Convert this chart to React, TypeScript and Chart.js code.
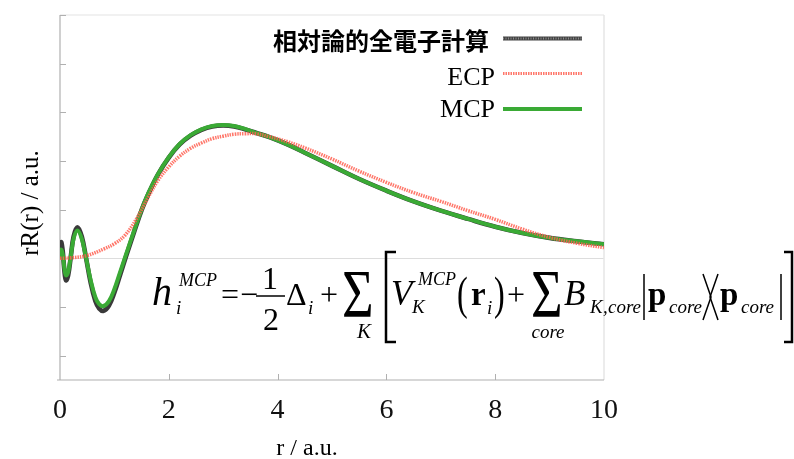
import React, { useEffect, useRef } from "react";
import { Chart, registerables } from "chart.js";

Chart.register(...registerables);

// ---- data ----
const rFull = [
  0, 0.02, 0.05, 0.08, 0.11, 0.15, 0.2, 0.25, 0.32, 0.4, 0.48, 0.56, 0.65, 0.72, 0.8, 0.9, 1.0, 1.1, 1.22, 1.35, 1.5,
  1.62, 1.8, 2.0, 2.2, 2.4, 2.6, 2.8, 3.0, 3.2, 3.4, 3.6, 3.85, 4.2, 4.5, 5.0, 5.5, 6.0, 6.5, 7.0, 7.5, 8.0, 8.5, 9.0,
  9.5, 10.0,
];
const allElectron = [
  0, 0.033, 0.015, -0.025, -0.045, -0.035, 0.005, 0.045, 0.064, 0.045, 0.0, -0.048, -0.088, -0.103, -0.108, -0.097,
  -0.07, -0.036, 0.006, 0.05, 0.099, 0.131, 0.172, 0.207, 0.234, 0.252, 0.264, 0.271, 0.273, 0.271, 0.265, 0.258, 0.249,
  0.233, 0.217, 0.19, 0.163, 0.139, 0.117, 0.098, 0.081, 0.065, 0.052, 0.042, 0.035, 0.029,
];
const mcpValues = [
  0, 0.018, 0.008, -0.02, -0.035, -0.028, 0.005, 0.04, 0.057, 0.04, 0.0, -0.043, -0.08, -0.094, -0.098, -0.088, -0.063,
  -0.03, 0.01, 0.053, 0.1, 0.133, 0.173, 0.208, 0.235, 0.253, 0.265, 0.272, 0.274, 0.272, 0.266, 0.258, 0.249, 0.233,
  0.217, 0.19, 0.163, 0.139, 0.117, 0.098, 0.081, 0.065, 0.052, 0.042, 0.035, 0.029,
];
const rEcp = [
  0, 0.2, 0.5, 0.8, 1.0, 1.2, 1.4, 1.62, 1.8, 2.0, 2.2, 2.4, 2.6, 2.8, 3.0, 3.2, 3.4, 3.6, 3.85, 4.2, 4.5, 5.0, 5.5, 6.0,
  6.5, 7.0, 7.5, 8.0, 8.5, 9.0, 9.5, 10.0,
];
const ecpValues = [
  0, 0.001, 0.006, 0.019, 0.03, 0.048, 0.08, 0.125, 0.16, 0.188, 0.21, 0.226, 0.237, 0.246, 0.251, 0.255, 0.256, 0.256,
  0.25, 0.239, 0.227, 0.204, 0.179, 0.156, 0.135, 0.117, 0.098, 0.08, 0.06, 0.043, 0.031, 0.022,
];
const xTickValues = [0, 2, 4, 6, 8, 10];
const yTickValues = [-0.2, -0.1, 0, 0.1, 0.2, 0.3, 0.4, 0.5];
const seriesLabels = ["相対論的全電子計算", "ECP", "MCP"];
const xTitle = "r / a.u.";
const yTitle = "rR(r) / a.u.";

const SERIF = '"Liberation Serif", "Times New Roman", serif';
const CJK = '"Noto Sans CJK JP", "Noto Sans CJK SC", sans-serif';
const COLORS = ["#3a3a3a", "rgba(255,95,80,0.85)", "#3aaa35"];

function txt(
  ctx: CanvasRenderingContext2D,
  s: string,
  x: number,
  y: number,
  size: number,
  style = "",
  align: CanvasTextAlign = "left",
  sx = 1,
  family = SERIF
) {
  ctx.save();
  ctx.font = `${style} ${size}px ${family}`;
  ctx.textAlign = align;
  ctx.textBaseline = "alphabetic";
  ctx.fillStyle = "#000";
  ctx.translate(x, y);
  ctx.scale(sx, 1);
  ctx.fillText(s, 0, 0);
  ctx.restore();
}

function line(ctx: CanvasRenderingContext2D, pts: number[][], w = 1.5, color = "#000") {
  ctx.save();
  ctx.strokeStyle = color;
  ctx.lineWidth = w;
  ctx.beginPath();
  pts.forEach((p, i) => (i === 0 ? ctx.moveTo(p[0], p[1]) : ctx.lineTo(p[0], p[1])));
  ctx.stroke();
  ctx.restore();
}

function drawFormula(ctx: CanvasRenderingContext2D) {
  const B = 305;
  // h_i^MCP
  txt(ctx, "h", 152, B, 40, "italic");
  txt(ctx, "MCP", 179, 286, 18, "italic");
  txt(ctx, "i", 176, 314, 19, "italic");
  // = - 1/2 Δ_i
  txt(ctx, "=", 221, B, 32);
  txt(ctx, "\u2212", 240, B, 32);
  txt(ctx, "1", 270, 289, 32, "", "center");
  line(ctx, [[256, 296], [285, 296]], 1.5);
  txt(ctx, "2", 271, 330, 32, "", "center");
  txt(ctx, "\u0394", 286, B, 32);
  txt(ctx, "i", 308, 314, 19, "italic");
  txt(ctx, "+", 320, B, 32);
  // Σ_K
  txt(ctx, "\u03A3", 342, 316, 68, "", "left", 0.8);
  txt(ctx, "K", 364, 338, 21, "italic", "center");
  // [
  line(ctx, [[396, 252], [386, 252], [386, 342], [396, 342]], 2.5);
  // V_K^MCP (r_i)
  txt(ctx, "V", 391, B, 35, "italic");
  txt(ctx, "MCP", 418, 285, 18, "italic");
  txt(ctx, "K", 412, 313, 19, "italic");
  txt(ctx, "(", 457, 309, 46, "", "left", 0.7);
  txt(ctx, "r", 471, B, 33, "bold");
  txt(ctx, "i", 487, 314, 19, "italic");
  txt(ctx, ")", 494, 309, 46, "", "left", 0.7);
  txt(ctx, "+", 507, B, 32);
  // Σ_core
  txt(ctx, "\u03A3", 531, 316, 68, "", "left", 0.8);
  txt(ctx, "core", 548, 338, 19, "italic", "center");
  // B_K,core
  txt(ctx, "B", 564, B, 35, "italic");
  txt(ctx, "K", 590, 313, 19, "italic");
  txt(ctx, ",", 603, 313, 19, "italic");
  txt(ctx, "core", 608, 313, 19, "italic");
  // |p_core><p_core|
  line(ctx, [[644, 274], [644, 320]], 1.5);
  txt(ctx, "p", 648, B, 33, "bold");
  txt(ctx, "core", 669, 313, 19, "italic");
  line(ctx, [[703, 274], [711, 297], [703, 320]], 1.5);
  line(ctx, [[718, 274], [710, 297], [718, 320]], 1.5);
  txt(ctx, "p", 720, B, 33, "bold");
  txt(ctx, "core", 741, 313, 19, "italic");
  line(ctx, [[781, 274], [781, 320]], 1.5);
  // ]
  line(ctx, [[784, 252], [792, 252], [792, 342], [784, 342]], 2.5);
}

const framePlugin = {
  id: "frame",
  beforeDatasetsDraw(chart: any) {
    const { ctx, chartArea: a, scales } = chart;
    const xs = scales.x;
    const ys = scales.y;
    ctx.save();
    const y0 = Math.round(ys.getPixelForValue(0)) + 0.5;
    line(ctx, [[a.left, y0], [a.right, y0]], 1, "#dddddd");
    line(ctx, [[a.left, a.top], [a.right, a.top]], 1.5, "#ececec");
    line(ctx, [[a.right, a.top], [a.right, a.bottom]], 1.5, "#e6e6e6");
    line(ctx, [[a.left, a.top], [a.left, a.bottom]], 1.2, "#b0b0b0");
    line(ctx, [[a.left - 3, a.bottom], [a.right, a.bottom]], 1.2, "#b0b0b0");
    yTickValues.forEach((v) => {
      const y = Math.round(ys.getPixelForValue(v)) + 0.5;
      line(ctx, [[a.left, y], [a.left + 6, y]], 1, "#b0b0b0");
    });
    xTickValues.forEach((v) => {
      if (v === 0 || v === 10) return;
      const x = Math.round(xs.getPixelForValue(v)) + 0.5;
      line(ctx, [[x, a.bottom], [x, a.bottom - 6]], 1, "#b0b0b0");
    });
    ctx.restore();
  },
};

const overlayPlugin = {
  id: "overlay",
  afterDraw(chart: any) {
    const ctx: CanvasRenderingContext2D = chart.ctx;
    txt(ctx, xTitle, 307, 455, 24, "", "center");
    ctx.save();
    ctx.translate(31, 203);
    ctx.rotate(-Math.PI / 2);
    ctx.font = `25px ${SERIF}`;
    ctx.textAlign = "center";
    ctx.textBaseline = "middle";
    ctx.fillStyle = "#000";
    ctx.fillText(yTitle, 0, 0);
    ctx.restore();
    // legend
    ctx.save();
    ctx.font = `bold 24px ${CJK}`;
    ctx.textAlign = "right";
    ctx.textBaseline = "middle";
    ctx.fillStyle = "#000";
    ctx.fillText(seriesLabels[0], 489, 41);
    ctx.restore();
    txt(ctx, seriesLabels[1], 495, 85, 26, "", "right");
    txt(ctx, seriesLabels[2], 495, 117, 26, "", "right");
    line(ctx, [[503, 38.5], [582, 38.5]], 4, "#444");
    ctx.save();
    ctx.setLineDash([1, 1.5]);
    line(ctx, [[503, 38.5], [582, 38.5]], 2, "#8a8a8a");
    ctx.restore();
    ctx.save();
    ctx.setLineDash([1.5, 1]);
    line(ctx, [[503, 73.5], [582, 73.5]], 3, COLORS[1]);
    ctx.restore();
    line(ctx, [[503, 109], [582, 109]], 4, COLORS[2]);
    drawFormula(ctx);
  },
};

export default function App() {
  const ref = useRef<HTMLCanvasElement | null>(null);
  useEffect(() => {
    if (!ref.current) return;
    const toPts = (xs: number[], ys: number[]) => xs.map((x, i) => ({ x, y: ys[i] }));
    const chart = new Chart(ref.current, {
      type: "line",
      data: {
        datasets: [
          {
            label: seriesLabels[0],
            data: toPts(rFull, allElectron),
            borderColor: COLORS[0],
            borderWidth: 4.6,
            pointRadius: 0,
            tension: 0.4,
            order: 3,
          },
          {
            label: seriesLabels[2],
            data: toPts(rFull, mcpValues),
            borderColor: COLORS[2],
            borderWidth: 4,
            pointRadius: 0,
            tension: 0.4,
            order: 2,
          },
          {
            label: seriesLabels[1],
            data: toPts(rEcp, ecpValues),
            borderColor: COLORS[1],
            borderWidth: 3.5,
            borderDash: [1.5, 1],
            pointRadius: 0,
            tension: 0.4,
            order: 1,
          },
        ],
      },
      options: {
        responsive: false,
        animation: false,
        layout: { padding: { top: 15, right: 190, left: 0, bottom: 0 } },
        plugins: { legend: { display: false }, tooltip: { enabled: false } },
        scales: {
          x: {
            type: "linear",
            min: 0,
            max: 10,
            grid: { display: false, drawTicks: false },
            border: { display: false },
            afterBuildTicks: (s: any) => {
              s.ticks = xTickValues.map((v) => ({ value: v }));
            },
            ticks: {
              font: { family: SERIF, size: 28 },
              color: "#111",
              padding: 14,
              maxRotation: 0,
              autoSkip: false,
            },
            afterFit: (s: any) => {
              s.height = 79;
            },
          },
          y: {
            type: "linear",
            min: -0.25,
            max: 0.5,
            grid: { display: false, drawTicks: false },
            border: { display: false },
            ticks: { display: false },
            afterFit: (s: any) => {
              s.width = 60;
            },
          },
        },
      },
      plugins: [framePlugin, overlayPlugin],
    });
    return () => chart.destroy();
  }, []);
  return (
    <div style={{ position: "absolute", left: 0, top: 0, width: 794, height: 459, background: "#fff" }}>
      <canvas ref={ref} width={794} height={459} style={{ width: 794, height: 459, display: "block" }} />
    </div>
  );
}
